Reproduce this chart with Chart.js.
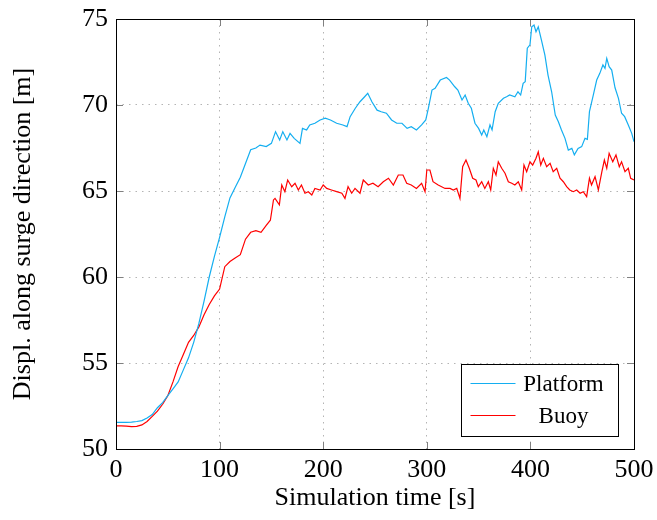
<!DOCTYPE html>
<html>
<head>
<meta charset="utf-8">
<script src="https://cdn.jsdelivr.net/npm/chart.js@4"></script>
<style>
  html, body { margin: 0; padding: 0; background: #fff; }
  #wrap { width: 657px; height: 520px; }
</style>
</head>
<body>
<div id="wrap"><canvas id="surge" width="657" height="520"></canvas></div>
<script>
// readings: time [s] and displacement [m]
var platformTime = [
  0, 5, 10, 15, 20, 25, 30, 35, 40, 45, 50, 55, 60, 65, 70, 75, 80, 85, 90, 95,
  100, 105, 110, 115, 120, 125, 130, 135, 139, 145, 150, 154, 158, 161, 165, 168,
  172, 177.6, 180, 184, 187, 192, 197, 202, 207, 213, 219, 223, 226, 231, 235.5,
  240, 243, 247, 252, 256, 261, 266, 271, 276, 281, 285, 290, 295, 299, 301.5,
  305, 308, 313, 319, 322, 327, 330, 334, 337, 340, 343, 346.5, 350, 353, 355,
  358, 361, 363, 366, 369, 374, 377, 380, 385, 388, 390.6, 393, 395, 397, 399.6,
  401.3, 403.5, 405.4, 407.6, 411, 414, 417, 420.5, 424, 427, 430, 433.4, 436.6,
  440, 442.4, 446, 449.5, 452.7, 455, 457, 460.7, 464, 467, 470, 472, 473.7, 476,
  478.5, 481.7, 485, 488, 491, 494.5, 497.8, 500
]
var platformDisp = [
  51.55, 51.55, 51.55, 51.56, 51.6, 51.65, 51.8, 52.0, 52.4, 52.7, 53.1, 53.5, 53.9, 54.6, 55.3, 56.2, 57.3, 58.6, 60.0, 61.2,
  62.3, 63.5, 64.6, 65.2, 65.8, 66.6, 67.4, 67.5, 67.67, 67.58, 67.77, 68.45, 67.97, 68.45, 67.97, 68.35,
  68.06, 67.77, 68.64, 68.55, 68.84, 68.94, 69.13, 69.23, 69.13, 68.94, 68.84, 68.74, 69.32, 69.81, 70.19,
  70.48, 70.68, 70.19, 69.7, 69.61, 69.52, 69.13, 68.94, 68.94, 68.64, 68.74, 68.55, 68.84, 69.13, 69.81,
  70.87, 70.97, 71.45, 71.6, 71.45, 71.06, 70.87, 70.29, 70.58, 70.1, 69.81, 68.94, 68.64, 68.26, 68.55,
  68.16, 68.84, 68.55, 69.61, 70.1, 70.39, 70.48, 70.58, 70.48, 70.77, 70.58, 71.26, 71.36, 73.3, 73.5,
  74.55, 74.65, 74.26, 74.55, 73.68, 72.9, 71.74, 70.77, 69.42, 69.03, 68.55, 68.06, 67.38,
  67.48, 67.1, 67.48, 67.58, 68.06, 68.0, 69.61, 70.58, 71.45, 71.84, 72.33, 72.13, 72.71, 72.23,
  72.03, 71.0, 70.39, 69.52, 69.32, 68.84, 68.35, 67.87
]

var buoyTime = [
  0, 5, 10, 15, 20, 25, 30, 35, 40, 45, 50, 55, 60, 65, 70, 75, 80, 85, 90, 95,
  100, 105, 110, 115, 120, 125, 130, 135, 140, 145, 149, 152, 153.5, 157.7, 160, 163,
  165.7, 169.6, 172.8, 176, 179, 182.4, 185.6, 189, 192, 197, 200, 203.4, 208, 213,
  218, 221, 224, 227.5, 230.7, 235.5, 238.7, 243.5, 248, 253, 258, 263, 267.7, 272.5,
  277, 280.6, 285, 290, 295, 298.3, 300, 303, 306, 311, 317.6, 322.4, 325.6, 328.9,
  332, 334.6, 337.8, 341, 344.3, 347.5, 349.7, 353, 356, 359.4, 361.7, 364.2, 366.8,
  369, 372.3, 375.5, 378.7, 382, 385, 388.3, 391.6, 393.8, 396.4, 399.6, 402.2, 405.4,
  407.6, 410, 412.5, 415.7, 419, 422, 425.4, 428.6, 431.8, 435, 438, 441.4, 444.7,
  448, 451, 454.3, 457, 459, 462.4, 465.6, 469, 471.4, 473.7, 476, 479.5, 482.6,
  485.8, 488, 491.3, 494.5, 496.8, 500
]
var buoyDisp = [
  51.34, 51.34, 51.33, 51.3, 51.32, 51.4, 51.6, 51.9, 52.2, 52.6, 53.1, 53.9, 54.8, 55.5, 56.2, 56.6, 57.1, 57.8, 58.4, 58.9,
  59.3, 60.6, 60.9, 61.1, 61.3, 62.2, 62.6, 62.7, 62.6, 63.0, 63.3, 64.48, 64.57, 64.19, 65.35, 64.96,
  65.64, 65.25, 65.45, 65.06, 65.35, 64.87, 64.96, 64.77, 65.15, 65.06, 65.35, 65.15, 65.06, 64.96,
  64.87, 64.57, 65.25, 64.87, 65.15, 64.87, 65.64, 65.35, 65.45, 65.25, 65.54, 65.74, 65.35, 65.93,
  65.93, 65.45, 65.35, 65.15, 65.45, 64.96, 66.22, 66.22, 65.54, 65.35, 65.15, 65.15, 65.06, 65.15,
  64.57, 66.41, 66.8, 66.32, 65.74, 65.64, 65.25, 65.54, 65.15, 65.54, 65.06, 66.32, 65.93,
  66.7, 66.32, 66.03, 65.54, 65.45, 65.35, 65.54, 65.06, 66.51, 66.12, 66.7, 66.51, 66.9,
  67.28, 66.51, 66.9, 66.41, 66.61, 66.12, 66.32, 65.74, 65.54, 65.25, 65.06, 64.96, 65.06,
  64.87, 64.96, 64.67, 65.74, 65.35, 65.83, 65.06, 66.12, 66.8, 66.32, 67.19, 66.7, 67.1,
  66.41, 66.7, 66.12, 66.32, 65.74, 65.64
]

var xTicks = [0, 100, 200, 300, 400, 500]
var yTicks = [50, 55, 60, 65, 70, 75]

var serif = "'Liberation Serif', 'DejaVu Serif', serif"

function ToPoints(ts, ys){
    return ts.map(function(t, i){ return {x: t, y: ys[i]} })
}

// frame, inward ticks and boxed legend, like the pgfplots look
var framePlugin = {
    id: 'frame',
    afterDraw: function(chart){
        var ctx = chart.ctx
        var a = chart.chartArea
        var xs = chart.scales.x
        var ys = chart.scales.y
        ctx.save()

        ctx.strokeStyle = '#808080'
        ctx.lineWidth = 1
        ctx.beginPath()
        xTicks.forEach(function(v){
            var px = Math.round(xs.getPixelForValue(v)) + 0.5
            ctx.moveTo(px, a.bottom); ctx.lineTo(px, a.bottom - 7)
            ctx.moveTo(px, a.top); ctx.lineTo(px, a.top + 7)
        })
        yTicks.forEach(function(v){
            var py = Math.round(ys.getPixelForValue(v)) + 0.5
            ctx.moveTo(a.left, py); ctx.lineTo(a.left + 7, py)
            ctx.moveTo(a.right, py); ctx.lineTo(a.right - 7, py)
        })
        ctx.stroke()

        ctx.strokeStyle = '#000'
        ctx.strokeRect(Math.round(a.left) + 0.5, Math.round(a.top) + 0.5,
                       Math.round(a.right - a.left), Math.round(a.bottom - a.top))

        // legend
        var bw = 157, bh = 72
        var bx = Math.round(a.right - 16 - bw) + 0.5
        var by = Math.round(a.bottom - 13 - bh) + 0.5
        ctx.fillStyle = '#fff'
        ctx.fillRect(bx, by, bw, bh)
        ctx.strokeStyle = '#000'
        ctx.strokeRect(bx, by, bw, bh)
        ctx.font = "23px " + serif
        ctx.textBaseline = 'middle'
        ctx.textAlign = 'center'
        chart.data.datasets.forEach(function(ds, i){
            var cy = by + 19 + i * 32
            ctx.strokeStyle = ds.borderColor
            ctx.lineWidth = 1
            ctx.beginPath()
            ctx.moveTo(bx + 9, cy); ctx.lineTo(bx + 54, cy)
            ctx.stroke()
            ctx.fillStyle = '#000'
            ctx.fillText(ds.label, bx + 102, cy + 1)
        })
        ctx.restore()
    }
}

var ctx = document.getElementById("surge")

var chart = new Chart(ctx, {
    type: "line",
    data: {
        datasets: [
            {
                label: "Platform",
                data: ToPoints(platformTime, platformDisp),
                borderColor: 'rgb(20, 174, 240)',
                borderWidth: 1.2,
                pointRadius: 0,
                tension: 0
            },
            {
                label: "Buoy",
                data: ToPoints(buoyTime, buoyDisp),
                borderColor: 'rgb(255, 0, 0)',
                borderWidth: 1.2,
                pointRadius: 0,
                tension: 0
            }
        ]
    },
    options: {
        responsive: false,
        animation: false,
        layout: { padding: { top: 19, right: 23, left: 0, bottom: 0 } },
        plugins: {
            legend: { display: false },
            tooltip: { enabled: false }
        },
        scales: {
            x: {
                type: 'linear',
                min: 0,
                max: 500,
                afterBuildTicks: function(s){ s.ticks = xTicks.map(function(v){ return {value: v} }) },
                afterFit: function(s){
                    s.height = 71
                    s.paddingLeft = 0
                    s.paddingRight = 0
                },
                ticks: { color: '#000', padding: 6, font: { family: serif, size: 26 } },
                grid: { color: '#b4b4b4', drawTicks: false },
                border: { display: false, dash: [1.5, 5] },
                title: {
                    display: true,
                    text: "Simulation time [s]",
                    color: '#000',
                    padding: { top: 0, bottom: 6 },
                    font: { family: serif, size: 26 }
                }
            },
            y: {
                min: 50,
                max: 75,
                afterBuildTicks: function(s){ s.ticks = yTicks.map(function(v){ return {value: v} }) },
                afterFit: function(s){
                    s.width = 116
                    s.paddingTop = 0
                    s.paddingBottom = 0
                },
                ticks: { color: '#000', padding: 8, font: { family: serif, size: 26 } },
                grid: { color: '#b4b4b4', drawTicks: false },
                border: { display: false, dash: [1.5, 5] },
                title: {
                    display: true,
                    text: "Displ. along surge direction [m]",
                    color: '#000',
                    padding: { top: 8, bottom: 0 },
                    font: { family: serif, size: 26 }
                }
            }
        }
    },
    plugins: [framePlugin]
})
</script>
</body>
</html>
